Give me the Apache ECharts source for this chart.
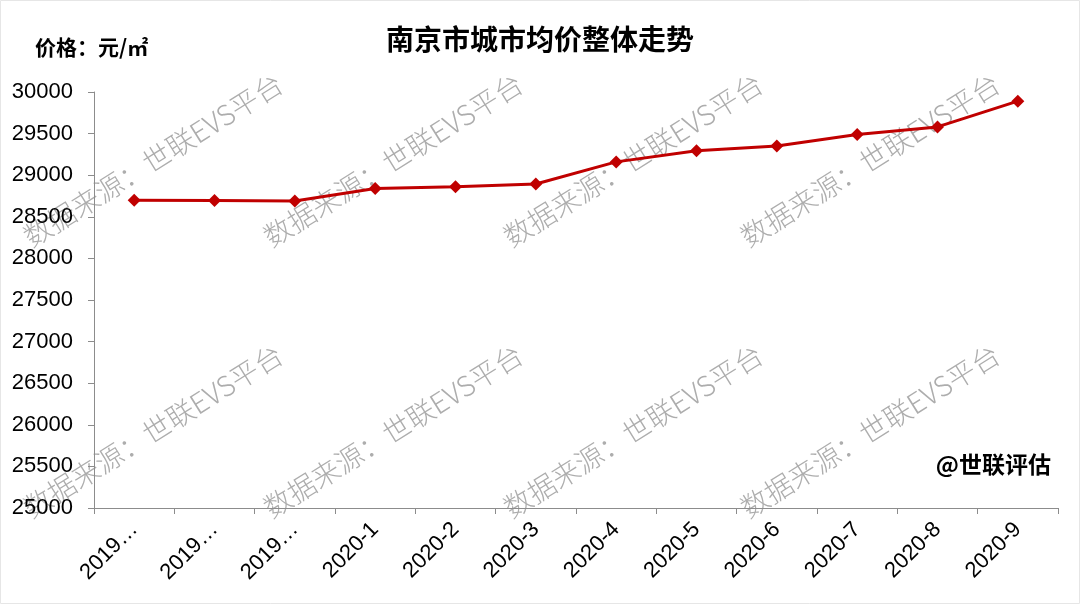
<!DOCTYPE html>
<html>
<head>
<meta charset="utf-8">
<script src="https://cdn.jsdelivr.net/npm/echarts@6/dist/echarts.min.js"></script>
<style>
  html, body { margin: 0; padding: 0; background: #fff; }
  #main { width: 1080px; height: 604px; }
</style>
</head>
<body>
<div id="main"></div>
<script>
// 月份
var months = ['2019-10', '2019-11', '2019-12', '2020-1', '2020-2', '2020-3',
  '2020-4', '2020-5', '2020-6', '2020-7', '2020-8', '2020-9'];
// 城市均价（元/㎡）
var prices = [28700, 28695, 28690, 28840, 28860, 28895, 29160, 29295, 29350, 29490, 29580, 29890];

var watermark = '数据来源：世联EVS平台';
var markRows = [160, 431];
var markCols = [153, 393, 633, 870];

var chart = echarts.init(document.getElementById('main'));

var graphics = [{
  type: 'rect',
  shape: { x: 0.5, y: 0.5, width: 1079, height: 603 },
  style: { fill: 'none', stroke: '#e6e6e6', lineWidth: 1 },
  silent: true
}];
markRows.forEach(function (y) {
  markCols.forEach(function (x) {
    graphics.push({
      type: 'text',
      x: x, y: y,
      rotation: 32 * Math.PI / 180,
      z: 0,
      silent: true,
      style: {
        text: watermark,
        fill: '#adadad',
        font: '300 28px "Noto Sans CJK SC", sans-serif',
        align: 'center',
        verticalAlign: 'middle'
      }
    });
  });
});
graphics.push({
  type: 'text',
  left: 35, top: 37,
  style: { text: '价格：元/㎡', fill: '#000', font: 'bold 21px "Noto Sans CJK SC", sans-serif' }
});
graphics.push({
  type: 'text',
  right: 29, top: 453,
  style: { text: '@世联评估', fill: '#000', font: 'bold 23px "Noto Sans CJK SC", sans-serif' }
});

chart.setOption({
  animation: false,
  title: {
    text: '南京市城市均价整体走势',
    left: 'center',
    top: 20,
    textStyle: { fontSize: 28, fontWeight: 'bold', color: '#000', fontFamily: 'Noto Sans CJK SC' }
  },
  grid: { left: 94, right: 22, top: 92, bottom: 96 },
  xAxis: {
    type: 'category',
    data: months,
    boundaryGap: true,
    axisLine: { lineStyle: { color: '#8c8c8c', width: 1 } },
    axisTick: { show: true, alignWithLabel: false, length: 6, lineStyle: { color: '#8c8c8c' } },
    axisLabel: {
      interval: 0,
      rotate: 45,
      margin: 18,
      color: '#000',
      fontSize: 22,
      fontFamily: 'Liberation Sans',
      formatter: function (v) {
        return v.indexOf('2019') === 0 ? '2019…' : v;
      }
    }
  },
  yAxis: {
    type: 'value',
    min: 25000,
    max: 30000,
    interval: 500,
    axisLine: { show: true, lineStyle: { color: '#8c8c8c', width: 1 } },
    axisTick: { show: true, length: 6, lineStyle: { color: '#8c8c8c' } },
    splitLine: { show: false },
    axisLabel: {
      color: '#000', fontSize: 22, margin: 21, fontFamily: 'Liberation Sans',
      formatter: function (v) { return String(v); }
    }
  },
  series: [{
    name: '城市均价',
    type: 'line',
    data: prices,
    z: 5,
    symbol: 'diamond',
    symbolSize: 13,
    lineStyle: { color: '#c00000', width: 3 },
    itemStyle: { color: '#c00000' }
  }],
  graphic: graphics
});
</script>
</body>
</html>
